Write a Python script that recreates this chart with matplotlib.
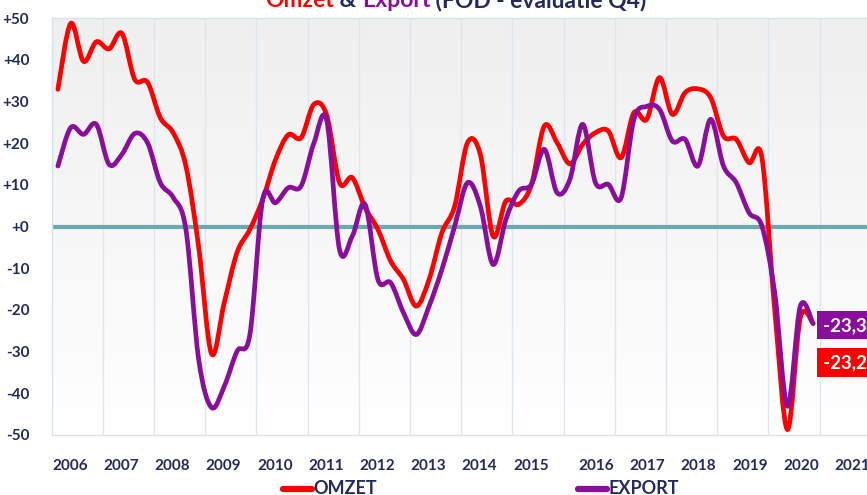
import numpy as np
import matplotlib
matplotlib.use("Agg")
import matplotlib.pyplot as plt
from matplotlib.path import Path
from matplotlib.patches import PathPatch
from matplotlib.lines import Line2D
from matplotlib.colors import LinearSegmentedColormap

# ---------------- data (quarterly, 2006Q1 .. 2020Q4) ----------------
years = [str(y) for y in range(2006, 2022)]
omzet = [32.9, 48.7, 39.6, 44.3, 42.6, 46.3, 35.3, 34.6,
         26.1, 22.5, 14.5, -5.0, -30.5, -18.2, -6.2, -0.7,
         6.5, 16.0, 22.0, 21.3, 29.3, 26.7, 10.5, 11.7,
         4.5, -0.7, -8.3, -12.7, -19.1, -12.7, -1.5, 4.9,
         20.1, 17.3, -2.3, 6.1, 5.3, 10.1, 24.1, 20.1,
         15.0, 19.7, 22.5, 22.9, 16.5, 27.3, 25.7, 35.7,
         26.9, 32.1, 33.0, 30.9, 21.7, 20.9, 15.3, 16.5,
         -19.9, -48.7, -21.9, -23.2]
export = [14.5, 23.7, 22.1, 24.5, 14.9, 17.3, 22.3, 20.1,
          10.5, 7.0, -0.7, -31.9, -43.4, -38.3, -29.9, -25.9,
          6.5, 5.7, 9.3, 9.7, 20.0, 25.5, -5.5, -2.3,
          5.3, -12.7, -13.5, -20.7, -25.9, -19.1, -10.3, 0.1,
          10.5, 4.9, -9.1, 1.7, 8.5, 10.1, 18.5, 8.1,
          11.3, 24.5, 10.5, 10.1, 6.9, 25.7, 28.8, 28.1,
          20.5, 20.9, 14.5, 25.7, 14.5, 10.5, 3.3, 0.1,
          -15.9, -43.1, -19.1, -23.3]
yticks = [50, 40, 30, 20, 10, 0, -10, -20, -30, -40, -50]

NAVY = "#232a5e"
RED = "#ff0000"
PURPLE = "#8a0d9c"

plt.rcParams['font.family'] = ['Lato', 'DejaVu Sans']

fig = plt.figure(figsize=(8.67, 4.95), dpi=100)
W, H = 867, 495
x0, x1 = 51.5, 51.5 + 16 * 51.2
ytop, ybot = 18, 435
ax = fig.add_axes([x0 / W, 1 - ybot / H, (x1 - x0) / W, (ybot - ytop) / H])
ax.set_xlim(0, 16)

# background gradient
grad = np.linspace(0, 1, 256).reshape(-1, 1)
cm = LinearSegmentedColormap.from_list("bg", ["#ffffff", "#efefef"])
ax.imshow(grad, extent=[0, 16, 50, -50], aspect='auto', cmap=cm, zorder=0)
ax.set_ylim(-50, 50)

for s in ax.spines.values():
    s.set_color("#d6e2ec")
    s.set_linewidth(1.0)
ax.spines['right'].set_visible(False)

for k in range(1, 16):
    ax.axvline(k, color="#dde6ef", lw=1.0, zorder=1)

ax.axhline(0, color="#6aa9b4", lw=3.0, zorder=2)

def smooth_path(xs, ys):
    pts = np.column_stack([xs, ys])
    n = len(pts)
    verts = [pts[0]]
    codes = [Path.MOVETO]
    for i in range(n - 1):
        p0 = pts[i - 1] if i > 0 else pts[i]
        p1 = pts[i]
        p2 = pts[i + 1]
        p3 = pts[i + 2] if i + 2 < n else pts[i + 1]
        c1 = p1 + (p2 - p0) / 6.0
        c2 = p2 - (p3 - p1) / 6.0
        verts += [c1, c2, p2]
        codes += [Path.CURVE4] * 3
    return Path(np.array(verts), codes)

xq = (np.arange(len(omzet)) + 0.5) / 4.0
for vals, col in [(omzet, RED), (export, PURPLE)]:
    patch = PathPatch(smooth_path(xq, np.array(vals)), fill=False, edgecolor=col,
                      lw=3.4, capstyle='round', joinstyle='round', zorder=3,
                      transform=ax.transData)
    ax.add_patch(patch)

# ticks
xt = [i + 0.36 if i < 10 else i + 0.64 for i in range(len(years))]
ax.set_xticks(xt)
ax.set_xticklabels(years, fontsize=11, fontweight='bold', color=NAVY)
ax.set_yticks(yticks)
ax.set_yticklabels([("+%d" % v if v >= 0 else "%d" % v) for v in yticks],
                   fontsize=11, fontweight='bold', color=NAVY)
ax.tick_params(axis='x', length=0, pad=17)
ax.tick_params(axis='y', length=0, pad=16)

# end labels
def fmt(v):
    return ("%.1f" % v).replace('.', ',')

ax.annotate(fmt(export[-1]) + "  ", xy=(xq[-1], export[-1]), xytext=(15.07, export[-1] - 0.4),
            textcoords='data', ha='left', va='center', fontsize=13.5, fontweight='bold',
            color='white', zorder=5, annotation_clip=False,
            bbox=dict(boxstyle='square,pad=0.3', fc=PURPLE, ec='none'))
ax.annotate(fmt(omzet[-1]) + "  ", xy=(xq[-1], omzet[-1]), xytext=(15.07, omzet[-1] - 9.4),
            textcoords='data', ha='left', va='center', fontsize=13.5, fontweight='bold',
            color='white', zorder=5, annotation_clip=False,
            bbox=dict(boxstyle='square,pad=0.3', fc=RED, ec='none'))

# legend (manual)
ly = 1 - 489 / H
for (xa, xb, col, lab) in [(283, 312, RED, "OMZET"), (578, 607, PURPLE, "EXPORT")]:
    fig.add_artist(Line2D([xa / W, xb / W], [ly, ly], color=col, lw=4.5,
                          solid_capstyle='round', transform=fig.transFigure))
    fig.text((xb + 1) / W, ly, lab, fontsize=13, fontweight='bold', color=NAVY,
             ha='left', va='center')

# title (cut off at top)
pieces = [("Omzet", RED), (" & ", NAVY), ("Export", PURPLE), (" (FOD - evaluatie Q4)", NAVY)]
renderer = fig.canvas.get_renderer()
ty = 1 - 7 / H
texts = []
for s, c in pieces:
    t = fig.text(0, ty, s, fontsize=16.5, fontweight='bold', color=c, ha='left', va='baseline')
    texts.append(t)
widths = [t.get_window_extent(renderer).width for t in texts]
total = sum(widths)
start = 456 - total / 2
for t, w in zip(texts, widths):
    t.set_x(start / W)
    start += w

fig.savefig("out.png", dpi=100)
